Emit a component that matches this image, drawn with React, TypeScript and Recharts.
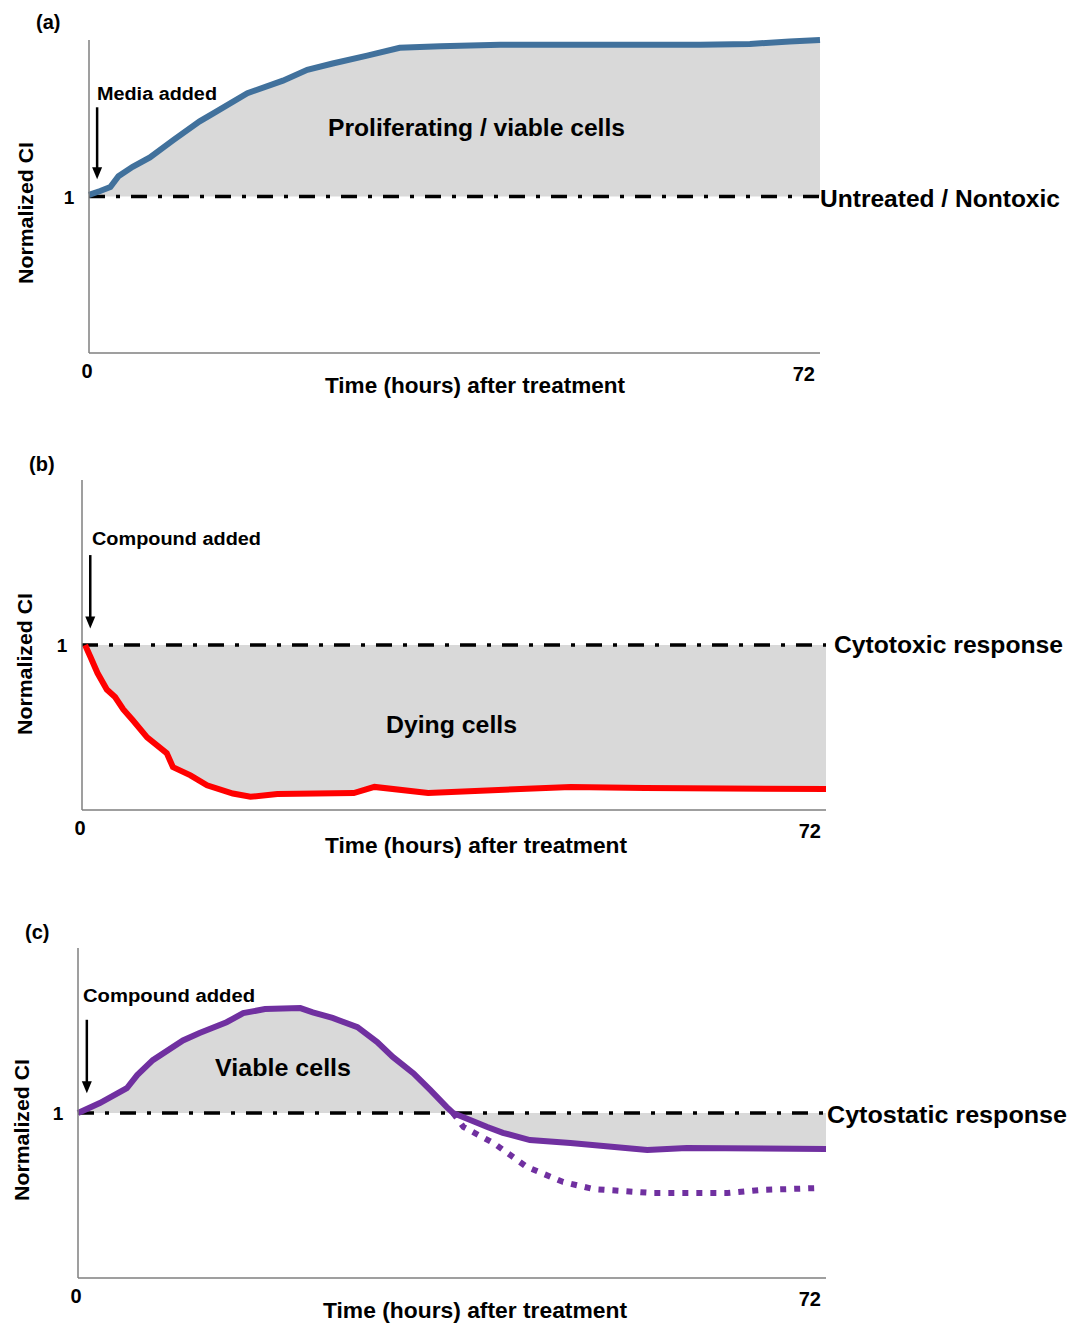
import React from "react";
import { ComposedChart, Area, Line, XAxis, YAxis, ReferenceLine } from "recharts";

// (a) untreated / nontoxic
const hoursA = [0, 1.1, 2.1, 2.9, 4.3, 6, 8.3, 10.9, 12.2, 15.6, 19.1, 21.5, 24, 27.4, 30.6, 34.6, 40.5, 50.3, 60.2, 65.1, 69, 72];
const viableA = [1.01, 1.035, 1.06, 1.13, 1.19, 1.25, 1.36, 1.48, 1.53, 1.66, 1.74, 1.81, 1.85, 1.9, 1.95, 1.96, 1.97, 1.97, 1.97, 1.975, 1.99, 2.0];

// (b) cytotoxic
const hoursB = [0.3, 0.8, 1.5, 2.4, 3.2, 4.0, 4.9, 6.3, 8.2, 8.8, 10.5, 12.1, 14.6, 16.3, 18.9, 26.3, 28.3, 33.5, 47.3, 54.5, 72];
const dyingB = [1.0, 0.93, 0.83, 0.73, 0.685, 0.61, 0.545, 0.44, 0.345, 0.26, 0.21, 0.15, 0.1, 0.08, 0.097, 0.103, 0.14, 0.103, 0.14, 0.133, 0.127];

// (c) cytostatic
const hoursC = [0, 2.1, 4.7, 5.7, 7.2, 10.1, 11.7, 14.3, 15.9, 18, 21.4, 22.6, 24.5, 26.9, 28.8, 30.3, 32.3, 33.9, 35.5, 36.1, 39.4, 40.9, 43.5, 47.4, 54.8, 58.6, 72];
const solidC = [1.0, 1.06, 1.15, 1.23, 1.32, 1.44, 1.485, 1.55, 1.605, 1.63, 1.636, 1.61, 1.576, 1.52, 1.43, 1.34, 1.24, 1.14, 1.036, 1.0, 0.915, 0.88, 0.836, 0.818, 0.776, 0.788, 0.782];
const hoursCDotted = [36.1, 37.1, 40, 43.2, 46.7, 49.6, 55.3, 62.5, 65.6, 71.1];
const dottedC = [1.0, 0.915, 0.818, 0.673, 0.582, 0.539, 0.515, 0.515, 0.533, 0.545];

const xTicks = [0, 72];
const yTicks = [1];

const rowsA = hoursA.map((h, i) => ({ h, v: viableA[i] }));
const rowsB = hoursB.map((h, i) => ({ h, v: dyingB[i] }));
const rowsC = hoursC.map((h, i) => ({ h, v: solidC[i] }));
const rowsCDotted = hoursCDotted.map((h, i) => ({ h, v: dottedC[i] }));

const FONT = '"Liberation Sans", Arial, sans-serif';
const DASH_DOT = "16 11 4 11";

function XTick(props: any) {
  const { x, y, payload } = props;
  const isEnd = payload.value === 72;
  return (
    <text
      x={isEnd ? x - 5 : x - 2}
      y={isEnd ? y + 28 : y + 25}
      textAnchor={isEnd ? "end" : "middle"}
      fontFamily={FONT}
      fontWeight="bold"
      fontSize={20}
      fill="#000"
    >
      {payload.value}
    </text>
  );
}

function YTick(props: any) {
  const { x, y, payload } = props;
  return (
    <text x={x - 20} y={y + 7} textAnchor="middle" fontFamily={FONT} fontWeight="bold" fontSize={19} fill="#000">
      {payload.value}
    </text>
  );
}

function Arrow(props: any) {
  const { x1, y1, x2, y2 } = props;
  return (
    <g>
      <line x1={x1} y1={y1} x2={x2} y2={y2 - 10} stroke="#000" strokeWidth={2.5} />
      <polygon points={`${x2 - 5},${y2 - 12} ${x2 + 5},${y2 - 12} ${x2},${y2}`} fill="#000" />
    </g>
  );
}

function Panel({
  top,
  height,
  margin,
  rows,
  color,
  arrowX,
  arrowFrom,
  arrowTo,
  children,
}: {
  top: number;
  height: number;
  margin: { top: number; right: number; bottom: number; left: number };
  rows: { h: number; v: number }[];
  color: string;
  arrowX: number;
  arrowFrom: number;
  arrowTo: number;
  children?: React.ReactNode;
}) {
  return (
    <div style={{ position: "absolute", left: 0, top }}>
      <ComposedChart width={1071} height={height} data={rows} margin={margin}>
        <XAxis
          dataKey="h"
          type="number"
          domain={[0, 72]}
          ticks={xTicks}
          tickLine={false}
          tickSize={0}
          tickMargin={0}
          height={30}
          axisLine={{ stroke: "#7f7f7f", strokeWidth: 1.5 }}
          tick={<XTick />}
        />
        <YAxis
          type="number"
          domain={[0, 2]}
          ticks={yTicks}
          tickLine={false}
          tickSize={0}
          tickMargin={0}
          width={30}
          axisLine={{ stroke: "#7f7f7f", strokeWidth: 1.5 }}
          tick={<YTick />}
        />
        <Area
          dataKey="v"
          type="linear"
          baseValue={1}
          fill="#d9d9d9"
          fillOpacity={1}
          stroke="none"
          isAnimationActive={false}
        />
        <ReferenceLine y={1} stroke="#000" strokeWidth={3.5} strokeDasharray={DASH_DOT} />
        {children}
        <Line
          dataKey="v"
          type="linear"
          stroke={color}
          strokeWidth={6}
          dot={false}
          isAnimationActive={false}
        />
        <ReferenceLine
          segment={[
            { x: arrowX, y: arrowFrom },
            { x: arrowX, y: arrowTo },
          ]}
          shape={<Arrow />}
        />
      </ComposedChart>
    </div>
  );
}

function Label({ x, y, size, len, children }: { x: number; y: number; size: number; len?: number; children: string }) {
  return (
    <text
      x={x}
      y={y}
      fontFamily={FONT}
      fontWeight="bold"
      fontSize={size}
      fill="#000"
      textLength={len}
      lengthAdjust={len ? "spacingAndGlyphs" : undefined}
    >
      {children}
    </text>
  );
}

function YTitle({ x, y }: { x: number; y: number }) {
  return (
    <text
      x={x}
      y={y}
      transform={`rotate(-90, ${x}, ${y})`}
      textAnchor="middle"
      fontFamily={FONT}
      fontWeight="bold"
      fontSize={21}
      fill="#000"
      textLength={142}
      lengthAdjust="spacingAndGlyphs"
    >
      Normalized CI
    </text>
  );
}

export default function App() {
  return (
    <div style={{ position: "absolute", left: 0, top: 0, width: 1071, height: 1324, background: "#fff", overflow: "hidden" }}>
      <Panel
        top={0}
        height={440}
        margin={{ top: 40, right: 251, bottom: 57, left: 59 }}
        rows={rowsA}
        color="#41719c"
        arrowX={0.8}
        arrowFrom={1.57}
        arrowTo={1.11}
      />
      <Panel
        top={440}
        height={440}
        margin={{ top: 40, right: 245, bottom: 40, left: 52 }}
        rows={rowsB}
        color="#ff0000"
        arrowX={0.8}
        arrowFrom={1.545}
        arrowTo={1.1}
      />
      <Panel
        top={880}
        height={444}
        margin={{ top: 68, right: 245, bottom: 16, left: 48 }}
        rows={rowsC}
        color="#7030a0"
        arrowX={0.85}
        arrowFrom={1.565}
        arrowTo={1.12}
      >
        <Line
          data={rowsCDotted}
          dataKey="v"
          type="linear"
          stroke="#7030a0"
          strokeWidth={6}
          strokeDasharray="6 8"
          dot={false}
          isAnimationActive={false}
        />
      </Panel>
      <svg width={1071} height={1324} style={{ position: "absolute", left: 0, top: 0, pointerEvents: "none" }}>
        <Label x={36} y={29} size={20}>(a)</Label>
        <Label x={97} y={100} size={18} len={120}>Media added</Label>
        <Label x={328} y={136} size={23} len={297}>Proliferating / viable cells</Label>
        <Label x={820} y={207} size={23} len={240}>Untreated / Nontoxic</Label>
        <Label x={325} y={393} size={22} len={300}>Time (hours) after treatment</Label>
        <YTitle x={33} y={213} />

        <Label x={29} y={471} size={20}>(b)</Label>
        <Label x={92} y={545} size={18} len={169}>Compound added</Label>
        <Label x={386} y={733} size={23} len={131}>Dying cells</Label>
        <Label x={834} y={653} size={23} len={229}>Cytotoxic response</Label>
        <Label x={325} y={853} size={22} len={302}>Time (hours) after treatment</Label>
        <YTitle x={32} y={664} />

        <Label x={25} y={939} size={20}>(c)</Label>
        <Label x={83} y={1002} size={18} len={172}>Compound added</Label>
        <Label x={215} y={1076} size={24} len={136}>Viable cells</Label>
        <Label x={827} y={1123} size={23} len={240}>Cytostatic response</Label>
        <Label x={323} y={1318} size={22} len={304}>Time (hours) after treatment</Label>
        <YTitle x={29} y={1130} />
      </svg>
    </div>
  );
}
